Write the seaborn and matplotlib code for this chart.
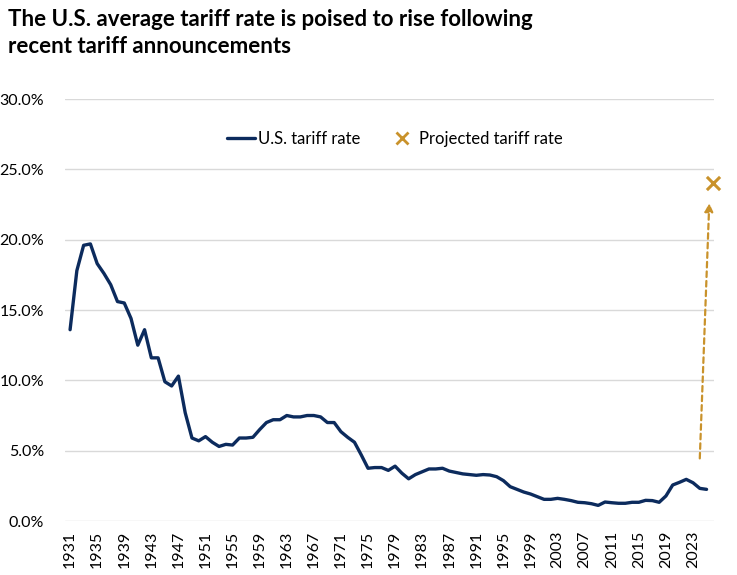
import numpy as np
import pandas as pd
import seaborn as sns
import matplotlib.pyplot as plt
from matplotlib.lines import Line2D

# US average tariff rate, %
years = list(range(1931, 2026))
tariff_rate = [13.6, 17.8, 19.6, 19.7, 18.3, 17.6, 16.8, 15.6, 15.5, 14.4,
               12.5, 13.6, 11.6, 11.6, 9.9, 9.6, 10.3, 7.7, 5.9, 5.7,
               6.0, 5.6, 5.3, 5.45, 5.4, 5.9, 5.9, 5.95, 6.5, 7.0,
               7.2, 7.2, 7.5, 7.4, 7.4, 7.5, 7.5, 7.4, 7.0, 7.0,
               6.35, 5.95, 5.6, 4.7, 3.75, 3.8, 3.8, 3.6, 3.9, 3.4,
               3.0, 3.3, 3.5, 3.7, 3.7, 3.75, 3.55, 3.45, 3.35, 3.3,
               3.25, 3.3, 3.27, 3.15, 2.87, 2.44, 2.25, 2.06, 1.92, 1.73,
               1.54, 1.54, 1.61, 1.54, 1.45, 1.33, 1.3, 1.23, 1.11, 1.35,
               1.3, 1.26, 1.26, 1.33, 1.33, 1.47, 1.45, 1.33, 1.78, 2.56,
               2.75, 2.96, 2.72, 2.32, 2.25]
projected_year = [2026]
projected_rate = [24.0]
arrow_from = (2024, 4.45)
arrow_to = (2025.4, 22.6)

tick_years = list(range(1931, 2024, 4))
y_ticks = [0, 5, 10, 15, 20, 25, 30]

navy = "#0c2b5d"
gold = "#c9922b"

sns.set_style("white")
plt.rcParams['font.family'] = ['Lato', 'DejaVu Sans']
plt.rcParams['text.color'] = 'black'

df = pd.DataFrame({"year": years, "rate": tariff_rate})
proj = pd.DataFrame({"year": projected_year, "rate": projected_rate})

fig = plt.figure(figsize=(7.37, 5.75), dpi=100)
ax = fig.add_axes([0.0882, 0.0939, 0.9688 - 0.0882, 0.8278 - 0.0939])

for t in y_ticks:
    ax.axhline(t, color="#d9d9d9", lw=1, zorder=0)

sns.lineplot(data=df, x="year", y="rate", color=navy, lw=2.4, ax=ax,
             zorder=3)
sns.scatterplot(data=proj, x="year", y="rate", marker="x", color=gold,
                s=90, linewidth=2.2, ax=ax, zorder=4, clip_on=False)

ax.annotate("", xy=arrow_to, xytext=arrow_from,
            arrowprops=dict(arrowstyle="-|>", color=gold, lw=1.6,
                            linestyle=(0, (2.5, 1.8)), mutation_scale=12,
                            shrinkA=0, shrinkB=0))

ax.set_xlim(1930.25, 2026.1)
ax.set_ylim(0, 30)
ax.set_xticks(tick_years)
ax.set_xticklabels([str(y) for y in tick_years], rotation=90, fontsize=11.5)
ax.set_yticks(y_ticks)
ax.set_yticklabels([f"{t:.1f}%" for t in y_ticks], fontsize=11.5)
ax.tick_params(axis="y", length=0, pad=15, colors="black")
ax.tick_params(axis="x", length=0, pad=7, colors="black")
ax.set_xlabel("")
ax.set_ylabel("")
for s in ax.spines.values():
    s.set_visible(False)

handles = [Line2D([0], [0], color=navy, lw=2.4),
           Line2D([0], [0], marker="x", color=gold, lw=0, markersize=8,
                  markeredgewidth=2)]
ax.legend(handles, ["U.S. tariff rate", "Projected tariff rate"],
          loc="center", bbox_to_anchor=(0.508, 0.905), ncol=2, frameon=False,
          fontsize=12, handlelength=1.7, handletextpad=0.2, columnspacing=1.6,
          labelcolor="black")

fig.text(0.011, 0.985,
         "The U.S. average tariff rate is poised to rise following\n"
         "recent tariff announcements",
         ha="left", va="top", fontsize=16, fontweight="bold",
         linespacing=1.4, color="black")

fig.savefig("out.png", dpi=100)
